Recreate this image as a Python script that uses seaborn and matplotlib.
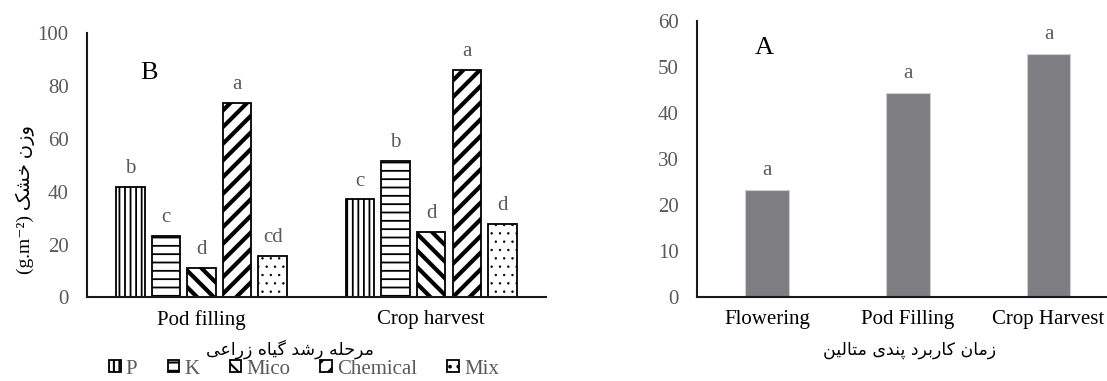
import matplotlib
matplotlib.use('Agg')
import matplotlib.pyplot as plt
import matplotlib.patches as mpatches
import seaborn as sns
import pandas as pd

# data (panel B)
stages = ['Pod filling', 'Crop harvest']
treatments = ['P', 'K', 'Mico', 'Chemical', 'Mix']
pod_filling = [42.0, 23.4, 11.1, 73.5, 15.8]
crop_harvest = [37.1, 51.6, 24.8, 86.2, 27.9]
letters_pod = ['b', 'c', 'd', 'a', 'cd']
letters_harvest = ['c', 'b', 'd', 'a', 'd']

# data (panel A)
times = ['Flowering', 'Pod Filling', 'Crop Harvest']
weight_a = [23.3, 44.3, 52.7]
letters_a = ['a', 'a', 'a']

# persian text
ylabel_fa = 'وزن خشک'
xlabel_b_fa = 'مرحله رشد گیاه زراعی'
xlabel_a_fa = 'زمان کاربرد پندی متالین'

hatches = ['|||', '--', '\\\\', '//', '..']
hatch_lw = [1.3, 1.3, 3.0, 3.0, 0.5]
GREY = '#595959'

# simple persian shaping -> presentation forms (iso, fin, ini, med)
FORMS = {
    'ا': ('\uFE8D', '\uFE8E', None, None),
    'ب': ('\uFE8F', '\uFE90', '\uFE91', '\uFE92'),
    'پ': ('\uFB56', '\uFB57', '\uFB58', '\uFB59'),
    'ت': ('\uFE95', '\uFE96', '\uFE97', '\uFE98'),
    'ح': ('\uFEA1', '\uFEA2', '\uFEA3', '\uFEA4'),
    'خ': ('\uFEA5', '\uFEA6', '\uFEA7', '\uFEA8'),
    'د': ('\uFEA9', '\uFEAA', None, None),
    'ر': ('\uFEAD', '\uFEAE', None, None),
    'ز': ('\uFEAF', '\uFEB0', None, None),
    'ش': ('\uFEB5', '\uFEB6', '\uFEB7', '\uFEB8'),
    'ع': ('\uFEC9', '\uFECA', '\uFECB', '\uFECC'),
    'ک': ('\uFB8E', '\uFB8F', '\uFB90', '\uFB91'),
    'گ': ('\uFB92', '\uFB93', '\uFB94', '\uFB95'),
    'ل': ('\uFEDD', '\uFEDE', '\uFEDF', '\uFEE0'),
    'م': ('\uFEE1', '\uFEE2', '\uFEE3', '\uFEE4'),
    'ن': ('\uFEE5', '\uFEE6', '\uFEE7', '\uFEE8'),
    'ه': ('\uFEE9', '\uFEEA', '\uFEEB', '\uFEEC'),
    'و': ('\uFEED', '\uFEEE', None, None),
    'ی': ('\uFBFC', '\uFBFD', '\uFBFE', '\uFBFF'),
}


def fa(text):
    out = []
    for i, ch in enumerate(text):
        if ch not in FORMS:
            out.append(ch)
            continue
        prev = text[i - 1] if i > 0 else ''
        nxt = text[i + 1] if i + 1 < len(text) else ''
        join_prev = prev in FORMS and FORMS[prev][2] is not None
        join_next = FORMS[ch][2] is not None and nxt in FORMS
        iso, fin, ini, med = FORMS[ch]
        if join_prev and join_next:
            out.append(med)
        elif join_prev:
            out.append(fin)
        elif join_next:
            out.append(ini)
        else:
            out.append(iso)
    return ''.join(out)[::-1]


sns.set_theme(style='white')
plt.rcParams['font.family'] = ['Liberation Serif', 'DejaVu Sans']
plt.rcParams['hatch.linewidth'] = 1.5
FA_FONT = ['DejaVu Sans']
FS = 15

df_b = pd.DataFrame({
    'stage': [s for s in stages for _ in treatments],
    'treatment': treatments * len(stages),
    'weight': pod_filling + crop_harvest,
})
df_a = pd.DataFrame({'time': times, 'weight': weight_a})

fig = plt.figure(figsize=(11.07, 3.81), dpi=100)
ax1 = fig.add_axes([0.0783, 0.2192, 0.4149, 0.6934])
ax2 = fig.add_axes([0.6294, 0.2197, 0.3813, 0.726])

# ---- panel B
sns.barplot(data=df_b, x='stage', y='weight', hue='treatment', ax=ax1,
            palette=['white'] * 5, edgecolor='black', linewidth=1.3,
            width=0.775, gap=0.2, legend=False)
letters_b = [letters_pod, letters_harvest]
handles = []
for k, cont in enumerate(ax1.containers):
    for j, bar in enumerate(cont):
        bar.set_hatch(hatches[k])
        if hasattr(bar, 'set_hatch_linewidth'):
            bar.set_hatch_linewidth(hatch_lw[k])
        ax1.annotate(letters_b[j][k], (bar.get_x() + bar.get_width() / 2, bar.get_height()),
                     xytext=(0, 10), textcoords='offset points', ha='center', va='baseline',
                     fontsize=FS, color=GREY)
    h = mpatches.Patch(facecolor='white', edgecolor='black', hatch=hatches[k], linewidth=1.3,
                       label=treatments[k])
    if hasattr(h, 'set_hatch_linewidth'):
        h.set_hatch_linewidth(hatch_lw[k])
    handles.append(h)

ax1.set_ylim(0, 100)
ax1.set_yticks(range(0, 101, 20))
ax1.set_xlim(-0.5, 1.5)
ax1.set_xlabel('')
ax1.set_ylabel('')
ax1.text(0.135, 0.85, 'B', transform=ax1.transAxes, fontsize=19, color='black',
         ha='center', va='center')

# ---- panel A
sns.barplot(data=df_a, x='time', y='weight', ax=ax2, color='#7e7e82',
            edgecolor='#cfcfcf', linewidth=0.8, width=0.31, saturation=1)
for j, bar in enumerate(ax2.containers[0]):
    ax2.annotate(letters_a[j], (bar.get_x() + bar.get_width() / 2, bar.get_height()),
                 xytext=(0, 11), textcoords='offset points', ha='center', va='baseline',
                 fontsize=FS, color=GREY)
ax2.set_ylim(0, 60)
ax2.set_yticks(range(0, 61, 10))
ax2.set_xlim(-0.5, 2.5)
ax2.set_xlabel('')
ax2.set_ylabel('')
ax2.text(0.16, 0.90, 'A', transform=ax2.transAxes, fontsize=19, color='black',
         ha='center', va='center')

for ax in (ax1, ax2):
    sns.despine(ax=ax)
    for s in ('left', 'bottom'):
        ax.spines[s].set_color('#1a1a1a')
        ax.spines[s].set_linewidth(1.5)
    ax.tick_params(axis='y', length=0, pad=13, labelsize=FS, labelcolor=GREY)
    ax.tick_params(axis='x', length=0, pad=9, labelsize=FS, labelcolor='black')

# axis titles
fig.text(25 / 1107, 1 - 200 / 381, '(g.m⁻²) ' + fa(ylabel_fa), rotation=90,
         ha='center', va='center', fontsize=14, color='black')
fig.text(290 / 1107, 1 - 349 / 381, fa(xlabel_b_fa), family=FA_FONT,
         ha='center', va='center', fontsize=12.5, color='black')
fig.text(910 / 1107, 1 - 350 / 381, fa(xlabel_a_fa), family=FA_FONT,
         ha='center', va='center', fontsize=12.5, color='black')

leg = fig.legend(handles=handles, loc='center', bbox_to_anchor=(304 / 1107, 1 - 369 / 381),
                 ncol=5, frameon=False, fontsize=FS, handlelength=0.55, handleheight=0.55,
                 handletextpad=0.25, columnspacing=1.45, borderpad=0, labelcolor=GREY)

fig.savefig('out.png', dpi=100)
